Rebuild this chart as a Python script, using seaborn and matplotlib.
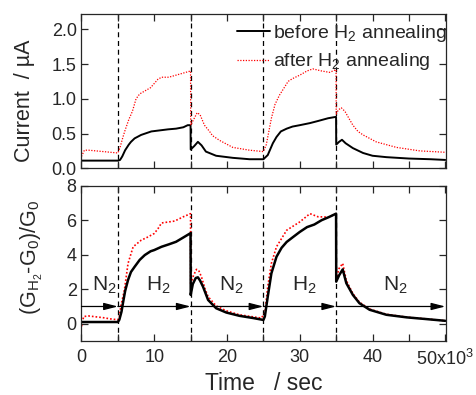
import numpy as np
import pandas as pd
import matplotlib
matplotlib.use("Agg")
import matplotlib.pyplot as plt
from matplotlib.ticker import MultipleLocator
import seaborn as sns

# time axis in units of 10^3 s
t_cur_before = [0, 5, 5.3, 5.6, 6, 6.5, 6.8, 7.3, 8.2, 9.6, 11.9, 13, 14, 14.6, 14.99, 15.01, 15.5, 16.0, 16.5, 17.1, 18.5, 20.8, 23.1, 25,
                25.6, 26.3, 26.8, 27.4, 28.2, 29.0, 30, 31.4, 32.5, 33.9, 34.99, 35.01, 35.4, 35.8, 36.3, 37.3, 38.7, 40, 41.9, 45, 48, 50]
cur_before = [0.11, 0.11, 0.12, 0.17, 0.26, 0.34, 0.38, 0.43, 0.48, 0.53, 0.56, 0.57, 0.59, 0.62, 0.62, 0.27, 0.32, 0.38, 0.33, 0.24, 0.18, 0.15, 0.13, 0.13,
              0.19, 0.36, 0.45, 0.53, 0.57, 0.60, 0.62, 0.65, 0.68, 0.72, 0.74, 0.34, 0.38, 0.41, 0.36, 0.29, 0.22, 0.18, 0.16, 0.14, 0.13, 0.12]

t_cur_after = [0, 0.4, 1, 2, 3, 4, 5, 5.3, 5.7, 6, 6.5, 7, 7.5, 8, 8.5, 9, 9.5, 10, 10.5, 11, 11.5, 12, 13, 14, 14.99,
               15.01, 15.4, 15.9, 16.3, 16.9, 17.6, 18, 19, 20.8, 23.1, 25, 25.4, 26.1, 26.6, 27.2, 27.8, 28.4, 29, 30, 31, 31.8, 33, 34.1, 34.99,
               35.01, 35.3, 35.7, 36.2, 36.8, 37.3, 38, 38.7, 40.5, 43.3, 46.5, 50]
cur_after = [0.17, 0.26, 0.26, 0.25, 0.24, 0.23, 0.22, 0.30, 0.45, 0.55, 0.70, 0.82, 1.00, 1.07, 1.10, 1.13, 1.16, 1.22, 1.28, 1.31, 1.31, 1.31, 1.34, 1.37, 1.40,
             0.62, 0.70, 0.80, 0.77, 0.62, 0.53, 0.47, 0.40, 0.30, 0.26, 0.24, 0.34, 0.72, 0.92, 1.05, 1.15, 1.25, 1.29, 1.34, 1.40, 1.43, 1.40, 1.38, 1.42,
             0.78, 0.84, 0.87, 0.82, 0.71, 0.62, 0.53, 0.48, 0.38, 0.30, 0.25, 0.23]

t_g_before = [0, 5, 5.2, 5.5, 5.7, 6, 6.4, 6.8, 7.3, 8, 8.7, 9.5, 10, 11, 12, 13, 14, 14.99, 15.01, 15.3, 15.7, 16, 16.3, 16.7, 17.4,
              18.5, 19.9, 21.7, 23.6, 25, 25.2, 25.6, 26.1, 26.8, 27.5, 28.2, 29, 30, 31, 32, 33, 34, 34.99, 35.01, 35.4, 35.9, 36.4,
              37.3, 38.2, 39.6, 41.9, 44.7, 47.4, 50]
g_before = [0.1, 0.1, 0.23, 0.7, 1.2, 1.9, 2.54, 3.0, 3.3, 3.7, 3.98, 4.2, 4.27, 4.46, 4.6, 4.75, 5.0, 5.25, 1.67, 2.3, 2.65, 2.69, 2.5, 2.15, 1.38,
            0.9, 0.65, 0.46, 0.33, 0.22, 0.42, 1.57, 2.92, 3.88, 4.4, 4.74, 5.0, 5.32, 5.6, 5.75, 6.0, 6.18, 6.38, 2.44, 2.8, 3.15, 2.35,
            1.67, 1.19, 0.81, 0.52, 0.37, 0.27, 0.17]

t_g_after = [0, 0.3, 1, 2, 3, 4, 5, 5.2, 5.4, 5.9, 6.4, 7.1, 8.2, 9, 10, 10.5, 11, 12, 12.8, 14, 14.99, 15.01, 15.4, 15.8, 16.1,
             16.5, 17, 17.4, 18.5, 19.9, 21.7, 24.7, 25.2, 25.6, 26.1, 26.8, 28.2, 30, 31.4, 32.5, 34, 34.99, 35.01, 35.4, 35.9,
             36.4, 37.3, 38.2, 39.6, 41.9, 44.7, 47.4, 50]
g_after = [-0.15, 0.42, 0.45, 0.4, 0.35, 0.28, 0.23, 0.4, 1.0, 1.96, 3.5, 4.46, 4.84, 5.0, 5.23, 5.5, 5.84, 5.9, 5.95, 6.2, 6.38, 2.25, 2.8, 3.15, 3.1,
           2.7, 2.0, 1.57, 1.04, 0.75, 0.52, 0.33, 0.6, 2.15, 3.5, 4.46, 5.42, 5.9, 6.38, 6.2, 6.18, 6.38, 2.6, 3.2, 3.5,
           2.5, 1.75, 1.25, 0.85, 0.55, 0.38, 0.28, 0.17]

switch_times = [5, 15, 25, 35]
phase_edges = [0, 5, 15, 25, 35, 50]
phase_gas = ["N$_2$", "H$_2$", "N$_2$", "H$_2$", "N$_2$"]
x_ticks = [0, 10, 20, 30, 40, 50]
x_ticklabels = ["0", "10", "20", "30", "40", "50x10$^3$"]

sns.set_style("ticks")
plt.rcParams["font.family"] = ["Liberation Sans", "DejaVu Sans"]
plt.rcParams["mathtext.fontset"] = "custom"
plt.rcParams["mathtext.rm"] = "Liberation Sans"
plt.rcParams["mathtext.it"] = "Liberation Sans"
plt.rcParams["mathtext.default"] = "regular"

fig = plt.figure(figsize=(4.76, 3.95), dpi=100)
ax1 = fig.add_axes([0.1712, 0.574, 0.7658, 0.3906])
ax2 = fig.add_axes([0.1712, 0.1367, 0.7658, 0.3932])

top_before = pd.DataFrame({"t": t_cur_before, "I": cur_before})
top_after = pd.DataFrame({"t": t_cur_after, "I": cur_after})
bot_before = pd.DataFrame({"t": t_g_before, "G": g_before})
bot_after = pd.DataFrame({"t": t_g_after, "G": g_after})

dots = (0, (1, 1.2))
sns.lineplot(data=top_before, x="t", y="I", ax=ax1, color="black", lw=1.4,
             estimator=None, sort=False, label="before H$_2$ annealing")
sns.lineplot(data=top_after, x="t", y="I", ax=ax1, color="red", lw=0.9, ls=dots,
             estimator=None, sort=False, label="after H$_2$ annealing")
sns.lineplot(data=bot_after, x="t", y="G", ax=ax2, color="red", lw=1.2, ls=dots,
             estimator=None, sort=False, legend=False)
sns.lineplot(data=bot_before, x="t", y="G", ax=ax2, color="black", lw=1.8,
             estimator=None, sort=False, legend=False)

for ax in (ax1, ax2):
    for ts in switch_times:
        ax.axvline(ts, color="black", lw=0.9, ls=(0, (4, 3)), zorder=0)
    ax.set_xlim(0, 50.1)
    ax.xaxis.set_major_locator(MultipleLocator(10))
    ax.xaxis.set_minor_locator(MultipleLocator(5))
    ax.tick_params(which="both", direction="in", top=True, right=True, labelsize=13)
    ax.tick_params(which="major", length=5, width=0.9)
    ax.tick_params(which="minor", length=5, width=0.9)
    for s in ax.spines.values():
        s.set_linewidth(0.9)

ax1.set_ylim(0, 2.22)
ax1.yaxis.set_major_locator(MultipleLocator(0.5))
ax1.set_xticklabels([])
ax1.set_xlabel("")
ax1.set_ylabel("Current  / µA", fontsize=15.5)
ax1.yaxis.set_label_coords(-0.128, 0.44)
ax1.legend(loc="upper right", bbox_to_anchor=(1.035, 1.02), frameon=False, fontsize=14,
           handlelength=1.7, handletextpad=0.16, labelspacing=0.4, borderaxespad=0.2)

ax2.set_ylim(-1, 8)
ax2.yaxis.set_major_locator(MultipleLocator(2))
ax2.set_xticks(x_ticks)
ax2.set_xticklabels(x_ticklabels)
ax2.tick_params(axis="x", which="major", pad=6)
ax2.set_ylabel("$(G_{H_2}$-$G_0)/G_0$", fontsize=15.5)
ax2.yaxis.set_label_coords(-0.1, 0.54)
ax2.set_xlabel("Time   / sec", fontsize=16.5, labelpad=2)

for i, gas in enumerate(phase_gas):
    x0, x1 = phase_edges[i], phase_edges[i + 1]
    ax2.annotate("", xy=(x1, 1), xytext=(x0, 1),
                 arrowprops=dict(arrowstyle="-|>,head_length=0.7,head_width=0.18",
                                 color="black", lw=0.9, shrinkA=0, shrinkB=0, mutation_scale=12))
    ax2.text((x0 + x1) / 2 + 0.6, 2.2, gas, ha="center", va="center", fontsize=15)

fig.savefig("out.png", dpi=100)
